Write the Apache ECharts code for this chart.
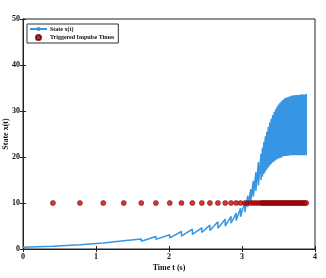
<!DOCTYPE html>
<html><head><meta charset="utf-8">
<script src="https://cdn.jsdelivr.net/npm/echarts@6/dist/echarts.min.js"></script>
<style>html,body{margin:0;padding:0;background:#fff}#c{width:326px;height:278px}</style>
</head><body><div id="c"></div>
<script>
const startTime = 0;
const startValue = 0.4;
const impulseTimes = [0.41,0.78,1.10,1.38,1.62,1.82,2.01,2.17,2.32,2.45,2.56,2.67,2.77,2.85,2.92,2.98,3.04,3.08,3.12,3.155,3.19,3.225,
  3.26,3.28,3.30,3.32,3.34,3.36,3.38,3.40,3.42,3.44,3.46,3.48,3.50,3.52,3.54,3.56,3.58,3.60,3.62,3.64,3.66,3.68,3.70,3.72,3.74,3.76,3.78,3.80,3.82,3.84,3.86,3.88];
const peakValues = [0.6,0.9,1.3,1.8,2.2,2.7,3.1,3.8,4.3,4.6,5.2,5.9,6.5,7.1,7.8,8.9,10.3,11.6,13.0,14.8,16.7,18.9,
  20.7,22.0,23.3,24.5,25.5,26.5,27.5,28.3,29.1,29.8,30.4,30.9,31.4,31.8,32.1,32.4,32.7,32.9,33.0,33.1,33.2,33.3,33.4,33.4,33.5,33.5,33.5,33.6,33.6,33.6,33.6,33.7];
const troughValues = [0.55,0.8,1.1,1.4,1.7,2.1,2.4,2.8,3.2,3.6,4.0,4.5,5.0,5.6,6.2,7.0,8.0,9.2,10.3,11.4,12.6,13.8,
  15.0,15.7,16.3,16.8,17.3,17.7,18.1,18.5,18.8,19.0,19.3,19.5,19.7,19.8,19.9,20.1,20.2,20.2,20.3,20.3,20.4,20.4,20.4,20.4,20.4,20.4,20.4,20.4,20.4,20.4,20.4,20.4];
const impulseMarkerLevel = 10;
const xTicks = [0,1,2,3,4];
const yTicks = [0,10,20,30,40,50];

const lineData = [[startTime, startValue]];
impulseTimes.forEach((t,i)=>{ lineData.push([t, peakValues[i]]); lineData.push([t, troughValues[i]]); });
const dotData = impulseTimes.map(t=>[t, impulseMarkerLevel]);

const font = 'Liberation Serif';
const chart = echarts.init(document.getElementById('c'));
chart.setOption({
  animation:false,
  backgroundColor:'#fff',
  grid:{left:23,top:19,right:11,bottom:29,outerBoundsMode:'none',containLabel:false,
        show:true,borderColor:'#222',borderWidth:1,backgroundColor:'transparent'},
  legend:{
    left:27, top:24, orient:'vertical',
    borderColor:'#333', borderWidth:1, padding:[2,4,2,2],
    itemGap:2, itemWidth:17, itemHeight:5,
    textStyle:{fontFamily:font,fontSize:6,fontWeight:'bold',color:'#111',padding:[0,0,0,-2]},
    data:[{name:'State x(t)'},{name:'Triggered Impulse Times',icon:'circle'}]
  },
  xAxis:[{
    type:'value', min:xTicks[0], max:xTicks[xTicks.length-1], interval:1,
    name:'Time t (s)', nameLocation:'middle', nameGap:15, nameMoveOverlap:false,
    nameTextStyle:{fontFamily:font,fontSize:8,fontWeight:'bold',color:'#111'},
    axisLine:{lineStyle:{color:'#222',width:1}},
    axisTick:{inside:true,length:3,lineStyle:{color:'#222'}},
    axisLabel:{fontFamily:font,fontSize:8,fontWeight:'bold',color:'#111',margin:4},
    splitLine:{show:false}
  },{
    type:'value', position:'top', min:0, max:4, interval:1,
    axisLine:{show:true,lineStyle:{color:'#222',width:1}},
    axisTick:{inside:true,length:3,lineStyle:{color:'#222'}},
    axisLabel:{show:false}, splitLine:{show:false}
  }],
  yAxis:[{
    type:'value', min:yTicks[0], max:yTicks[yTicks.length-1], interval:10,
    name:'State x(t)', nameLocation:'middle', nameGap:13, nameMoveOverlap:false,
    nameTextStyle:{fontFamily:font,fontSize:8,fontWeight:'bold',color:'#111'},
    axisLine:{show:true,lineStyle:{color:'#222',width:1}},
    axisTick:{show:true,inside:true,length:3,lineStyle:{color:'#222'}},
    axisLabel:{fontFamily:font,fontSize:8,fontWeight:'bold',color:'#111',margin:3},
    splitLine:{show:false}
  },{
    type:'value', position:'right', min:0, max:50, interval:10,
    axisLine:{show:true,lineStyle:{color:'#222',width:1}},
    axisTick:{show:true,inside:true,length:3,lineStyle:{color:'#222'}},
    axisLabel:{show:false}, splitLine:{show:false}
  }],
  series:[{
    name:'State x(t)', type:'line', data:lineData, showSymbol:false, symbol:'none',
    lineStyle:{color:'#3796e3',width:1.5}, itemStyle:{color:'#3796e3'}, z:2
  },{
    name:'Triggered Impulse Times', type:'scatter', data:dotData, symbol:'circle', symbolSize:5,
    itemStyle:{color:'#d40000',borderColor:'#4a0000',borderWidth:0.6}, z:3
  }]
});
</script></body></html>
